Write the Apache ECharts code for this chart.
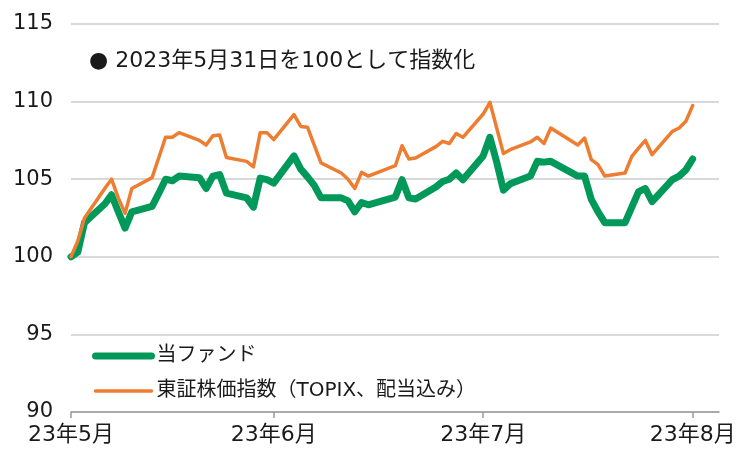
<!DOCTYPE html>
<html>
<head>
<meta charset="utf-8">
<script src="https://cdn.jsdelivr.net/npm/echarts@6/dist/echarts.min.js"></script>
<style>html,body{margin:0;padding:0;background:#fff;}#c{width:741px;height:450px;}</style>
</head>
<body>
<div id="c"></div>
<script>
// trading days
const dates = [
'2023-05-31','2023-06-01','2023-06-02','2023-06-05','2023-06-06','2023-06-07','2023-06-08','2023-06-09',
'2023-06-12','2023-06-13','2023-06-14','2023-06-15','2023-06-16','2023-06-19','2023-06-20','2023-06-21',
'2023-06-22','2023-06-23','2023-06-26','2023-06-27','2023-06-28','2023-06-29','2023-06-30',
'2023-07-03','2023-07-04','2023-07-05','2023-07-06','2023-07-07','2023-07-10','2023-07-11','2023-07-12',
'2023-07-13','2023-07-14','2023-07-18','2023-07-19','2023-07-20','2023-07-21','2023-07-24','2023-07-25',
'2023-07-26','2023-07-27','2023-07-28','2023-07-31',
'2023-08-01','2023-08-02','2023-08-03','2023-08-04','2023-08-07','2023-08-08','2023-08-09','2023-08-10',
'2023-08-14','2023-08-15','2023-08-16','2023-08-17','2023-08-18','2023-08-21','2023-08-22','2023-08-23',
'2023-08-24','2023-08-25','2023-08-28','2023-08-29','2023-08-30','2023-08-31'
];
// 当ファンド
const fundValues = [
100.0,100.3,102.2,103.4,104.0,102.9,101.85,102.9,
103.25,104.1,105.0,104.9,105.2,105.1,104.4,105.2,
105.3,104.1,103.8,103.2,105.07,104.97,104.75,
106.5,105.65,105.15,104.6,103.8,103.8,103.6,102.9,
103.5,103.35,103.85,104.97,103.8,103.72,104.5,104.85,
105.0,105.4,104.97,106.5,
107.7,106.1,104.3,104.7,105.2,106.15,106.1,106.15,
105.2,105.2,103.7,102.9,102.2,102.2,103.2,104.2,
104.4,103.55,104.97,105.2,105.6,106.3
];
// 東証株価指数（TOPIX、配当込み）
const topixValues = [
100.0,101.0,102.5,104.4,105.0,103.8,102.8,104.4,
105.1,106.4,107.7,107.7,108.0,107.5,107.2,107.8,
107.85,106.4,106.15,105.8,108.0,108.0,107.55,
109.16,108.4,108.35,107.2,106.05,105.4,105.0,104.4,
105.44,105.2,105.87,107.16,106.3,106.37,107.1,107.44,
107.3,107.94,107.7,109.2,
109.95,108.3,106.65,106.9,107.4,107.7,107.3,108.3,
107.2,107.65,106.26,105.94,105.2,105.4,106.47,107.0,
107.5,106.58,108.08,108.3,108.73,109.74
];
const seriesNames = ['当ファンド','東証株価指数（TOPIX、配当込み）'];
const tickDates = ['2023-05-31','2023-06-30','2023-07-31','2023-08-31'];
const tickLabels = ['23年5月','23年6月','23年7月','23年8月'];
const yTicks = [90,95,100,105,110,115];
const note = '● 2023年5月31日を100として指数化';

const base = Date.UTC(2023,4,31);
function dayOf(s){const p=s.split('-').map(Number);return (Date.UTC(p[0],p[1]-1,p[2])-base)/86400000;}
const tickDays = tickDates.map(dayOf);
const labelMap = {};
tickDays.forEach((d,i)=>labelMap[d]=tickLabels[i]);

const FONT = "'DejaVu Sans', 'Noto Sans CJK JP', sans-serif";
const chart = echarts.init(document.getElementById('c'), null, {renderer:'canvas'});
chart.setOption({
  animation:false,
  backgroundColor:'#ffffff',
  textStyle:{fontFamily:FONT},
  title:{
    text:note, left:84, top:45,
    textStyle:{fontFamily:FONT,fontSize:22,fontWeight:'normal',color:'#1a1a1a'}
  },
  grid:{left:71,right:22,top:24,bottom:38,containLabel:false},
  legend:{
    orient:'vertical', left:87, top:341,
    itemWidth:56, itemHeight:14, itemGap:15,
    textStyle:{fontFamily:FONT,fontSize:20,color:'#1a1a1a'},
    itemStyle:{opacity:0},
    data:[
      {name:seriesNames[0], itemStyle:{opacity:0}, lineStyle:{width:7,cap:'round'}},
      {name:seriesNames[1], itemStyle:{opacity:0}, lineStyle:{width:3.5,cap:'round'}}
    ]
  },
  xAxis:{
    type:'value', min:0, max:95.9,
    axisLine:{show:true,lineStyle:{color:'#9a9a9a',width:1.5}},
    axisTick:{show:true,customValues:tickDays,length:6,inside:false,lineStyle:{color:'#9a9a9a',width:1.5}},
    axisLabel:{customValues:tickDays,formatter:v=>labelMap[v]||'',fontSize:22,color:'#1a1a1a',margin:12,fontFamily:FONT},
    splitLine:{show:false}
  },
  yAxis:{
    type:'value', min:yTicks[0], max:yTicks[yTicks.length-1], interval:5,
    axisLine:{show:false}, axisTick:{show:false},
    axisLabel:{fontSize:21,color:'#1a1a1a',margin:18,fontFamily:FONT},
    splitLine:{show:true,lineStyle:{color:'#d9d9d9',width:2}}
  },
  series:[
    {name:seriesNames[0],type:'line',symbol:'none',
     data:dates.map((d,i)=>[dayOf(d),fundValues[i]]),
     lineStyle:{color:'#00995a',width:7,cap:'round',join:'round'},itemStyle:{color:'#00995a'},z:2},
    {name:seriesNames[1],type:'line',symbol:'none',
     data:dates.map((d,i)=>[dayOf(d),topixValues[i]]),
     lineStyle:{color:'#ed7d31',width:3.5,cap:'round',join:'round'},itemStyle:{color:'#ed7d31'},z:3}
  ]
});
</script>
</body>
</html>
